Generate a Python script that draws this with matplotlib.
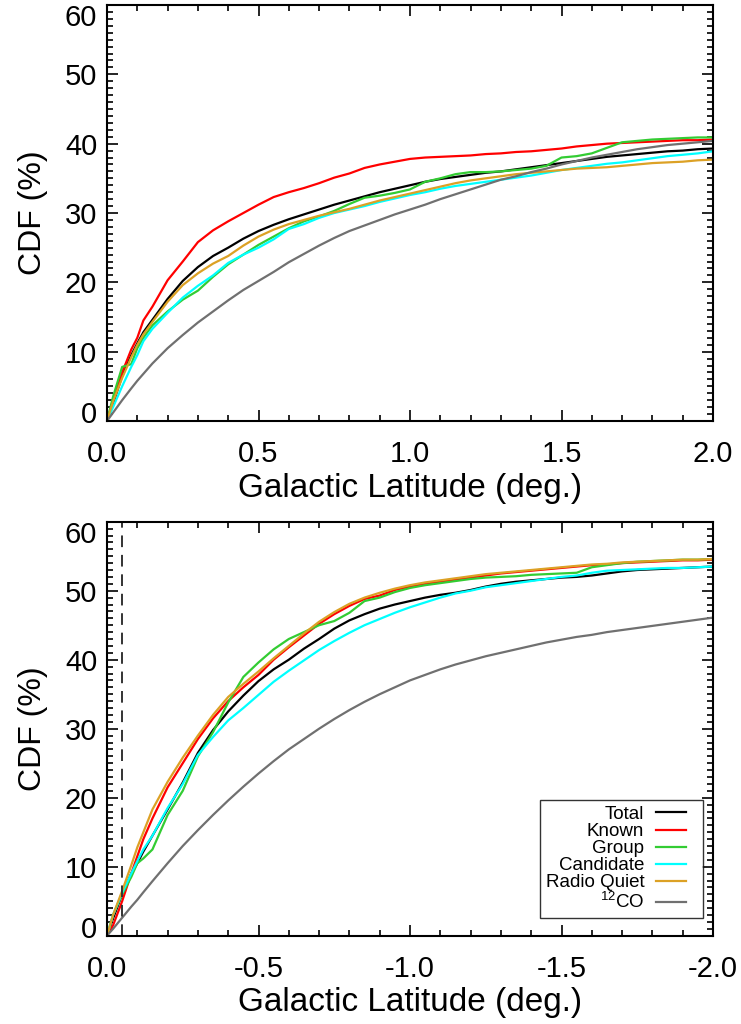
import numpy as np
import matplotlib
matplotlib.use("Agg")
import matplotlib.pyplot as plt
from matplotlib.ticker import MultipleLocator, FormatStrFormatter
from matplotlib.transforms import ScaledTranslation
from matplotlib.legend_handler import HandlerLine2D

plt.rcParams['font.family'] = ['Liberation Sans', 'DejaVu Sans']
plt.rcParams['mathtext.fontset'] = 'custom'
plt.rcParams['mathtext.rm'] = 'Liberation Sans'

# ---------------- data ----------------
lat = [0, 0.02, 0.05, 0.08, 0.1, 0.12, 0.15, 0.2, 0.25, 0.3, 0.35, 0.4, 0.45, 0.5,
       0.55, 0.6, 0.65, 0.7, 0.75, 0.8, 0.85, 0.9, 0.95, 1.0, 1.05, 1.1, 1.15, 1.2,
       1.25, 1.3, 1.35, 1.4, 1.45, 1.5, 1.55, 1.6, 1.65, 1.7, 1.75, 1.8, 1.85, 1.9,
       1.95, 2.0]

labels = ['Total', 'Known', 'Group', 'Candidate', 'Radio Quiet', r'$^{12}$CO']
colors = ['#000000', '#ff0000', '#33cc33', '#00ffff', '#dca125', '#707070']

# northern (positive latitude) CDFs, %
north_total = [0, 2.5, 6.5, 9.5, 11.2, 12.8, 14.6, 17.6, 20.2, 22.2, 23.8, 25.0, 26.3, 27.4,
               28.3, 29.1, 29.8, 30.5, 31.2, 31.8, 32.4, 33.0, 33.5, 34.0, 34.5, 34.9, 35.2, 35.5,
               35.8, 36.0, 36.3, 36.6, 36.9, 37.2, 37.5, 37.8, 38.1, 38.3, 38.5, 38.7, 38.9, 39.0,
               39.2, 39.3]
north_known = [0, 3.0, 7.0, 10.3, 12.0, 14.5, 16.5, 20.3, 23.0, 25.8, 27.5, 28.8, 30.0, 31.2,
               32.3, 33.0, 33.6, 34.3, 35.1, 35.7, 36.5, 37.0, 37.4, 37.8, 38.0, 38.1, 38.2, 38.3,
               38.5, 38.6, 38.8, 38.9, 39.1, 39.3, 39.6, 39.8, 40.0, 40.1, 40.2, 40.3, 40.4, 40.5,
               40.5, 40.6]
north_group = [0, 3.5, 7.8, 8.2, 10.5, 12.0, 13.8, 15.8, 17.5, 18.8, 20.8, 22.6, 24.0, 25.4,
               26.6, 27.8, 28.8, 29.5, 30.3, 31.3, 32.2, 32.5, 32.9, 33.4, 34.5, 35.0, 35.6, 35.9,
               35.9, 36.0, 36.2, 36.4, 36.8, 38.0, 38.2, 38.6, 39.4, 40.2, 40.4, 40.6, 40.7, 40.8,
               40.9, 40.9]
north_cand = [0, 2.0, 5.0, 7.8, 9.5, 11.5, 13.3, 15.6, 17.8, 19.5, 21.0, 22.8, 24.0, 25.0,
              26.2, 27.7, 28.4, 29.3, 30.0, 30.5, 31.0, 31.6, 32.1, 32.6, 33.0, 33.5, 33.9, 34.2,
              34.5, 34.8, 35.1, 35.4, 35.8, 36.2, 36.5, 36.8, 37.1, 37.3, 37.6, 37.9, 38.2, 38.4,
              38.6, 38.9]
north_rq = [0, 2.8, 6.2, 9.2, 11.0, 12.5, 14.3, 17.2, 19.6, 21.3, 22.7, 23.8, 25.3, 26.6,
            27.6, 28.4, 29.0, 29.6, 30.1, 30.6, 31.2, 31.8, 32.3, 32.8, 33.3, 33.8, 34.3, 34.7,
            35.0, 35.3, 35.6, 35.8, 36.0, 36.2, 36.4, 36.5, 36.6, 36.8, 37.0, 37.2, 37.3, 37.4,
            37.6, 37.7]
north_co = [0, 1.2, 3.0, 4.7, 5.8, 6.8, 8.3, 10.5, 12.4, 14.2, 15.8, 17.4, 18.9, 20.2,
            21.5, 22.9, 24.1, 25.3, 26.4, 27.4, 28.2, 29.0, 29.8, 30.5, 31.2, 32.0, 32.7, 33.4,
            34.1, 34.8, 35.3, 35.9, 36.4, 37.0, 37.5, 38.0, 38.4, 38.8, 39.2, 39.5, 39.8, 40.0,
            40.2, 40.4]

# southern (negative latitude) CDFs, %
south_total = [0, 2.5, 6.0, 9.0, 10.5, 12.2, 14.5, 18.3, 22.2, 26.5, 29.8, 32.5, 34.8, 36.9,
               38.6, 40.0, 41.6, 43.0, 44.5, 45.7, 46.6, 47.4, 48.0, 48.5, 49.0, 49.4, 49.7, 50.1,
               50.6, 51.0, 51.3, 51.5, 51.7, 51.9, 52.0, 52.2, 52.5, 52.8, 53.0, 53.1, 53.2, 53.3,
               53.4, 53.5]
south_known = [0, 1.5, 5.0, 9.0, 11.5, 14.0, 17.0, 21.5, 25.0, 28.5, 31.5, 34.0, 36.0, 37.8,
               40.0, 41.8, 43.5, 45.2, 46.6, 47.8, 48.8, 49.3, 50.1, 50.6, 51.0, 51.3, 51.6, 51.9,
               52.2, 52.5, 52.7, 52.9, 53.1, 53.3, 53.5, 53.7, 53.8, 54.0, 54.1, 54.2, 54.3, 54.4,
               54.4, 54.5]
south_group = [0, 3.0, 6.0, 8.5, 10.5, 11.2, 12.5, 17.5, 21.0, 26.0, 29.5, 33.8, 37.5, 39.6,
               41.5, 43.0, 44.0, 45.0, 45.6, 46.8, 48.5, 49.0, 49.8, 50.4, 50.8, 51.1, 51.4, 51.7,
               51.9, 52.0, 52.1, 52.3, 52.4, 52.5, 52.6, 53.4, 53.7, 54.0, 54.2, 54.3, 54.4, 54.5,
               54.5, 54.6]
south_cand = [0, 3.0, 6.2, 9.0, 10.8, 12.5, 14.5, 18.5, 22.0, 26.2, 28.8, 31.2, 33.0, 34.9,
              36.8, 38.4, 39.9, 41.4, 42.7, 43.9, 45.0, 45.9, 46.8, 47.6, 48.3, 49.0, 49.6, 50.0,
              50.5, 50.8, 51.1, 51.4, 51.7, 52.0, 52.2, 52.6, 52.9, 53.0, 53.1, 53.2, 53.3, 53.3,
              53.4, 53.5]
south_rq = [0, 3.0, 6.5, 10.2, 12.8, 15.0, 18.3, 22.3, 25.8, 29.0, 32.0, 34.6, 36.5, 38.3,
            40.2, 42.0, 43.8, 45.5, 46.9, 48.1, 49.0, 49.7, 50.3, 50.8, 51.2, 51.5, 51.8, 52.1,
            52.4, 52.6, 52.8, 53.0, 53.2, 53.4, 53.6, 53.8, 53.9, 54.1, 54.2, 54.3, 54.4, 54.5,
            54.5, 54.6]
south_co = [0, 1.0, 2.6, 4.2, 5.2, 6.3, 7.9, 10.5, 13.0, 15.3, 17.5, 19.6, 21.6, 23.5,
            25.3, 27.0, 28.5, 30.0, 31.4, 32.7, 33.9, 35.0, 36.0, 37.0, 37.8, 38.6, 39.3, 39.9,
            40.5, 41.0, 41.5, 42.0, 42.5, 42.9, 43.3, 43.6, 44.0, 44.3, 44.6, 44.9, 45.2, 45.5,
            45.8, 46.1]

dash_lat = -0.05

north = [north_total, north_known, north_group, north_cand, north_rq, north_co]
south = [south_total, south_known, south_group, south_cand, south_rq, south_co]


class ShortLine(HandlerLine2D):
    """Legend line drawn over the left part of the handle box (IDL-like right padding)."""
    def create_artists(self, legend, orig_handle, xdescent, ydescent, width, height,
                       fontsize, trans):
        return super().create_artists(legend, orig_handle, xdescent, ydescent,
                                      width * 0.73, height, fontsize, trans)


# ---------------- figure ----------------
fig = plt.figure(figsize=(7.41, 10.24), dpi=100)
W, H = 741, 1024
ax1 = fig.add_axes([107 / W, 1 - 421 / H, 606 / W, 416 / H])
ax2 = fig.add_axes([107 / W, 1 - 935.7 / H, 606 / W, 414 / H])

lat_n = np.array(lat)
lat_s = -np.array(lat)

for ys, c in zip(north, colors):
    ax1.plot(lat_n, ys, color=c, lw=1.6)
handles = []
for ys, c in zip(south, colors):
    h, = ax2.plot(lat_s, ys, color=c, lw=1.6)
    handles.append(h)
ax2.axvline(dash_lat, color='#333333', lw=1.4, ls=(0, (6, 4)))

ax1.set_xlim(0, 2.0)
ax2.set_xlim(0, -2.0)

FS = 21
for ax in (ax1, ax2):
    ax.set_ylim(0, 60)
    ax.xaxis.set_major_locator(MultipleLocator(0.5))
    ax.xaxis.set_minor_locator(MultipleLocator(0.1))
    ax.yaxis.set_major_locator(MultipleLocator(10))
    ax.yaxis.set_minor_locator(MultipleLocator(1))
    ax.xaxis.set_major_formatter(FormatStrFormatter('%.1f'))
    ax.tick_params(which='both', direction='in', top=True, right=True, width=1.2)
    ax.tick_params(which='major', length=8)
    ax.tick_params(which='minor', length=4)
    ax.tick_params(axis='x', which='major', labelsize=FS, pad=14)
    ax.tick_params(axis='y', which='major', labelsize=FS, pad=7)
    for s in ax.spines.values():
        s.set_linewidth(1.5)
    ax.set_xlabel('Galactic Latitude (deg.)', fontsize=24, labelpad=3)
    ax.set_ylabel('CDF (%)', fontsize=23, labelpad=12)
    # shift end labels inward like the original
    ticks = ax.get_yticks()
    for t, lab in zip(ticks, ax.get_yticklabels()):
        if abs(t - 0) < 1e-6:
            lab.set_transform(lab.get_transform() + ScaledTranslation(0, 9 / 100, fig.dpi_scale_trans))
        elif abs(t - 60) < 1e-6:
            lab.set_transform(lab.get_transform() + ScaledTranslation(0, -10 / 100, fig.dpi_scale_trans))

leg = ax2.legend(handles, labels, loc='lower right', bbox_to_anchor=(0.9835, 0.043),
                 borderaxespad=0, markerfirst=False, fontsize=13.5, frameon=True,
                 fancybox=False, handlelength=2.2, handletextpad=0.64,
                 labelspacing=0.0, borderpad=0.3,
                 handler_map={h: ShortLine() for h in handles})
leg.get_frame().set_edgecolor('black')
leg.get_frame().set_linewidth(1.0)
for t in leg.get_texts():
    t.set_ha('right')
leg._legend_box.align = 'right'

fig.savefig('out.png', dpi=100)
